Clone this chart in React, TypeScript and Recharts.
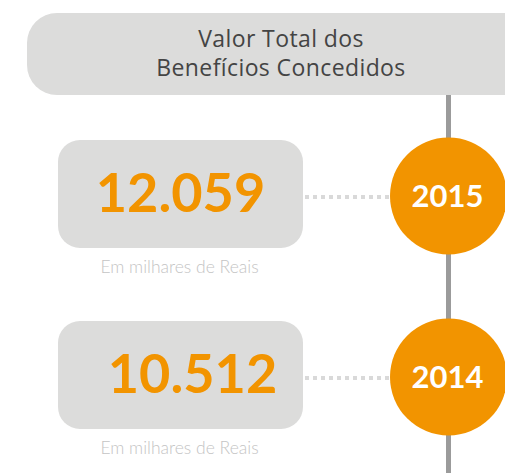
import React from 'react';
import { ComposedChart, Scatter, XAxis, YAxis, ReferenceLine } from 'recharts';

// dados
const titleLines = ['Valor Total dos', 'Benefícios Concedidos'];
const years = [2015, 2014];
const values = ['12.059', '10.512'];
const unitLabel = 'Em milhares de Reais';

const W = 505;
const H = 473;
const TIMELINE_X = 448.5;
const ROW_PX = 181;
const FIRST_ROW_Y = 196;
const ORANGE = '#f29400';
const BOX = '#dcdcdb';
const FONT = 'Lato, "Open Sans", sans-serif';
const TITLE_FONT = '"Open Sans", Lato, sans-serif';

const toRow = (py: number) => (py - FIRST_ROW_Y) / ROW_PX;

const rows = years.map((year, i) => ({ pos: TIMELINE_X, row: i, year, value: values[i] }));
const header = [{ pos: TIMELINE_X, row: toRow(54) }];

const RowShape = (props: any) => {
  const { cx, cy, payload } = props;
  const r = 58.5;
  const boxX = cx - 390.5;
  const boxW = 245;
  return (
    <g>
      <line
        x1={boxX + boxW + 2}
        x2={cx - r}
        y1={cy + 1}
        y2={cy + 1}
        stroke="#d9d9d9"
        strokeWidth={4}
        strokeDasharray="4 4"
      />
      <rect x={boxX} y={cy - 56} width={boxW} height={108} rx={22} ry={22} fill={BOX} />
      <text
        x={boxX + boxW / 2 + (payload.row === 1 ? 12 : 0)}
        y={cy + 16}
        textAnchor="middle"
        fill={ORANGE}
        fontFamily={FONT}
        fontWeight={700}
        fontSize={54}
      >
        {payload.value}
      </text>
      <text
        x={boxX + boxW / 2 - 1}
        y={cy + 77}
        textAnchor="middle"
        fill="#c4c4c4"
        fontFamily={FONT}
        fontWeight={300}
        fontSize={17.5}
      >
        {unitLabel}
      </text>
      <circle cx={cx} cy={cy} r={r} fill={ORANGE} />
      <text
        x={cx - 1}
        y={cy + 11}
        textAnchor="middle"
        fill="#ffffff"
        fontFamily={FONT}
        fontWeight={700}
        fontSize={31}
      >
        {payload.year}
      </text>
    </g>
  );
};

const HeaderShape = (props: any) => {
  const { cy } = props;
  const left = 27;
  const midX = 281;
  return (
    <g>
      <rect x={left} y={cy - 41} width={W - left + 40} height={82} rx={30} ry={30} fill={BOX} />
      <text
        textAnchor="middle"
        fill="#444444"
        fontFamily={TITLE_FONT}
        fontSize={23}
        letterSpacing={0.4}
      >
        {titleLines.map((t, i) => (
          <tspan key={t} x={midX} y={cy - 7 + i * 29}>
            {t}
          </tspan>
        ))}
      </text>
    </g>
  );
};

export default function App() {
  return (
    <div style={{ position: 'absolute', left: 0, top: 0, width: W, height: H, background: '#ffffff' }}>
      <ComposedChart width={W} height={H} margin={{ top: 0, right: 0, bottom: 0, left: 0 }}>
        <XAxis type="number" dataKey="pos" domain={[0, W]} hide />
        <YAxis type="number" dataKey="row" domain={[toRow(0), toRow(H)]} reversed hide allowDataOverflow />
        <ReferenceLine
          segment={[
            { x: TIMELINE_X, y: toRow(95) },
            { x: TIMELINE_X, y: toRow(H) },
          ]}
          stroke="#9b9b9b"
          strokeWidth={5}
        />
        <Scatter data={header} shape={HeaderShape} isAnimationActive={false} />
        <Scatter data={rows} shape={RowShape} isAnimationActive={false} />
      </ComposedChart>
    </div>
  );
}
